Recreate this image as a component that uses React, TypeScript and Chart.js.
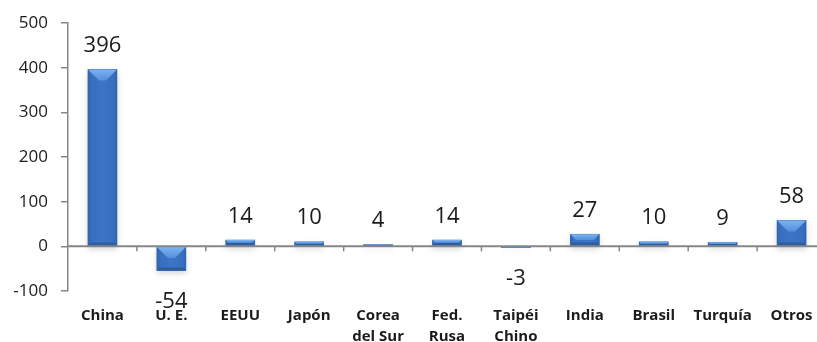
import React, { useEffect, useRef } from 'react';
import { Chart, registerables } from 'chart.js';

Chart.register(...registerables);

// Variación por país/región
const categories: (string | string[])[] = [
  'China',
  'U. E.',
  'EEUU',
  'Japón',
  ['Corea', 'del Sur'],
  ['Fed.', 'Rusa'],
  ['Taipéi', 'Chino'],
  'India',
  'Brasil',
  'Turquía',
  'Otros',
];
const values: number[] = [396, -54, 14, 10, 4, 14, -3, 27, 10, 9, 58];

const yMin = -100;
const yMax = 500;
const yStep = 100;

const AXIS = '#868686';
const TEXT = '#1b1b1b';
const FONT = "'Open Sans', 'DejaVu Sans', sans-serif";

const CANVAS_W = 830;
const CANVAS_H = 342;

type Pt = [number, number];

function poly(ctx: CanvasRenderingContext2D, pts: Pt[]) {
  ctx.beginPath();
  ctx.moveTo(pts[0][0], pts[0][1]);
  for (let i = 1; i < pts.length; i++) ctx.lineTo(pts[i][0], pts[i][1]);
  ctx.closePath();
  ctx.fill();
}

// Bevelled column: slightly darker sides and bottom, light wedge at the top
function drawBevelBar(ctx: CanvasRenderingContext2D, x0: number, x1: number, top: number, bot: number) {
  const w = x1 - x0;
  const h = bot - top;
  if (h <= 0 || w <= 0) return;
  const dTop = Math.min(11, h / 2, w / 2);
  const dBot = Math.min(3, h / 2);
  const dSide = Math.min(2.5, w / 2);

  ctx.save();
  ctx.shadowColor = 'rgba(0,0,0,0.18)';
  ctx.shadowBlur = 6;
  ctx.shadowOffsetY = 3;
  const body = ctx.createLinearGradient(x0, 0, x1, 0);
  body.addColorStop(0, '#3064ae');
  body.addColorStop(0.12, '#386fbf');
  body.addColorStop(0.5, '#3c75c6');
  body.addColorStop(0.88, '#386fbf');
  body.addColorStop(1, '#3064ae');
  ctx.fillStyle = body;
  ctx.fillRect(x0, top, w, h);
  ctx.restore();

  ctx.save();
  ctx.fillStyle = '#2d5c9f';
  poly(ctx, [[x0, bot], [x1, bot], [x1 - dSide, bot - dBot], [x0 + dSide, bot - dBot]]);

  const tg = ctx.createLinearGradient(0, top, 0, top + Math.max(dTop, 1));
  tg.addColorStop(0, '#7cb3f0');
  tg.addColorStop(1, '#5290dc');
  ctx.fillStyle = tg;
  poly(ctx, [[x0, top], [x1, top], [x1 - dTop, top + dTop], [x0 + dTop, top + dTop]]);
  ctx.restore();
}

const bevelPlugin = {
  id: 'bevelBars',
  afterDatasetsDraw(chart: any) {
    const ctx: CanvasRenderingContext2D = chart.ctx;
    const meta = chart.getDatasetMeta(0);
    meta.data.forEach((el: any) => {
      const { x, y, base, width } = el.getProps(['x', 'y', 'base', 'width'], true);
      drawBevelBar(ctx, x - width / 2, x + width / 2, Math.min(y, base), Math.max(y, base));
    });
  },
};

// Zero line with category separators, drawn over the columns
const zeroAxisPlugin = {
  id: 'zeroAxis',
  afterDatasetsDraw(chart: any) {
    const ctx: CanvasRenderingContext2D = chart.ctx;
    const xs = chart.scales.x;
    const ys = chart.scales.y;
    const y0 = ys.getPixelForValue(0);
    const { left, right } = chart.chartArea;
    const n = categories.length;
    const step = (right - left) / n;
    ctx.save();
    ctx.strokeStyle = AXIS;
    ctx.lineWidth = 2;
    ctx.beginPath();
    ctx.moveTo(left, y0);
    ctx.lineTo(right, y0);
    ctx.stroke();
    ctx.lineWidth = 1.5;
    for (let i = 1; i <= n; i++) {
      const px = xs.getPixelForValue(i - 1) + step / 2;
      ctx.beginPath();
      ctx.moveTo(px, y0);
      ctx.lineTo(px, y0 + 5);
      ctx.stroke();
    }
    ctx.restore();
  },
};

const valueLabelPlugin = {
  id: 'valueLabels',
  afterDatasetsDraw(chart: any) {
    const ctx: CanvasRenderingContext2D = chart.ctx;
    const meta = chart.getDatasetMeta(0);
    ctx.save();
    ctx.fillStyle = TEXT;
    ctx.font = `22px ${FONT}`;
    ctx.textAlign = 'center';
    ctx.textBaseline = 'alphabetic';
    meta.data.forEach((el: any, i: number) => {
      const v = values[i];
      const { x, y } = el.getProps(['x', 'y'], true);
      const ty = v >= 0 ? y - 17.5 : y + 37.5;
      ctx.fillText(String(v), x, ty);
    });
    ctx.restore();
  },
};

export default function App() {
  const ref = useRef<HTMLCanvasElement | null>(null);

  useEffect(() => {
    if (!ref.current) return;
    const chart = new Chart(ref.current, {
      type: 'bar',
      data: {
        labels: categories,
        datasets: [
          {
            data: values,
            backgroundColor: '#3a72c2',
            borderWidth: 0,
            barThickness: 29,
          },
        ],
      },
      options: {
        responsive: false,
        animation: false,
        devicePixelRatio: 1,
        layout: { padding: { left: 8, right: CANVAS_W - 826, top: 23, bottom: 0 } },
        plugins: {
          legend: { display: false },
          tooltip: { enabled: false },
        },
        scales: {
          x: {
            grid: { display: false },
            border: { display: false },
            ticks: {
              color: TEXT,
              autoSkip: false,
              maxRotation: 0,
              padding: 7,
              font: { family: FONT, size: 15, weight: 'bold', lineHeight: 1.36 },
            },
            afterFit: (s: any) => {
              s.height = 51;
              s.paddingLeft = 0;
              s.paddingRight = 0;
            },
          },
          y: {
            min: yMin,
            max: yMax,
            ticks: {
              stepSize: yStep,
              color: TEXT,
              padding: 13,
              font: { family: FONT, size: 17 },
            },
            grid: {
              drawOnChartArea: false,
              drawTicks: true,
              tickLength: 7,
              color: AXIS,
              lineWidth: 1.5,
            },
            border: { display: true, color: AXIS, width: 1.5 },
            afterFit: (s: any) => {
              s.width = 60;
              s.paddingTop = 0;
              s.paddingBottom = 0;
            },
          },
        },
      } as any,
      plugins: [bevelPlugin, zeroAxisPlugin, valueLabelPlugin],
    });
    return () => chart.destroy();
  }, []);

  return (
    <div
      style={{
        position: 'fixed',
        left: 0,
        top: 0,
        width: 817,
        height: CANVAS_H,
        overflow: 'hidden',
        background: '#ffffff',
      }}
    >
      <canvas
        ref={ref}
        width={CANVAS_W}
        height={CANVAS_H}
        style={{ display: 'block', width: CANVAS_W, height: CANVAS_H }}
      />
    </div>
  );
}
